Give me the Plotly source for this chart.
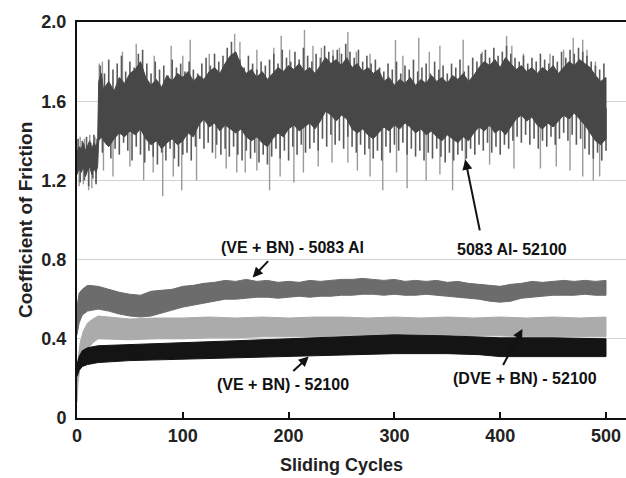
import numpy as np
import plotly.graph_objects as go

# ---------------- data ----------------
# 5083 Al - 52100 : dense core envelope (upper / lower)
s1_cyc = [0, 2, 4, 6, 8, 10, 12, 14, 16, 18, 19.5, 20.5, 23] + list(range(25, 501, 5))
s1_hi = [1.34, 1.37, 1.36, 1.39, 1.35, 1.38, 1.40, 1.36, 1.39, 1.37, 1.40, 1.70, 1.74,
         1.66, 1.70, 1.65, 1.72, 1.69, 1.74, 1.76, 1.80, 1.72, 1.68,
         1.71, 1.67, 1.73, 1.70, 1.74, 1.72, 1.75, 1.70, 1.73, 1.71,
         1.75, 1.77, 1.74, 1.79, 1.83, 1.85, 1.78, 1.74, 1.76, 1.72,
         1.75, 1.71, 1.74, 1.77, 1.75, 1.78, 1.76, 1.79, 1.75, 1.77,
         1.74, 1.78, 1.82, 1.79, 1.81, 1.78, 1.82, 1.77, 1.79, 1.75,
         1.77, 1.74, 1.76, 1.70, 1.72, 1.68, 1.71, 1.69, 1.72, 1.68,
         1.71, 1.69, 1.73, 1.70, 1.72, 1.69, 1.73, 1.71, 1.74, 1.70,
         1.73, 1.77, 1.80, 1.78, 1.81, 1.77, 1.82, 1.79, 1.76, 1.78,
         1.75, 1.77, 1.74, 1.77, 1.75, 1.78, 1.74, 1.77, 1.80, 1.78,
         1.81, 1.79, 1.77, 1.73, 1.70, 1.72]
s1_lo = [1.23, 1.26, 1.24, 1.27, 1.22, 1.25, 1.27, 1.23, 1.26, 1.24, 1.27, 1.40, 1.42,
         1.40, 1.37, 1.41, 1.44, 1.42, 1.45, 1.43, 1.46, 1.41, 1.38,
         1.40, 1.36, 1.39, 1.41, 1.38, 1.40, 1.44, 1.42, 1.48, 1.51,
         1.47, 1.49, 1.45, 1.48, 1.46, 1.44, 1.46, 1.42, 1.40, 1.42,
         1.39, 1.37, 1.41, 1.44, 1.42, 1.46, 1.48, 1.45, 1.47, 1.49,
         1.46, 1.50, 1.55, 1.53, 1.50, 1.53, 1.51, 1.46, 1.44, 1.46,
         1.43, 1.41, 1.44, 1.47, 1.45, 1.48, 1.46, 1.49, 1.47, 1.44,
         1.46, 1.43, 1.45, 1.42, 1.40, 1.43, 1.41, 1.39, 1.42, 1.40,
         1.44, 1.47, 1.45, 1.48, 1.44, 1.46, 1.43, 1.47, 1.51, 1.53,
         1.50, 1.52, 1.48, 1.46, 1.49, 1.47, 1.50, 1.53, 1.51, 1.54,
         1.51, 1.48, 1.44, 1.40, 1.38, 1.41]
# 5083 Al - 52100 : dense short spikes (dark)
s1_hs_cyc = [1, 5, 9, 13, 16, 19] + list(range(22, 499, 4))
s1_hs_val = [1.41, 1.40, 1.42, 1.39, 1.43, 1.41,
             1.78, 1.74, 1.81, 1.76, 1.79, 1.83, 1.75, 1.80, 1.77, 1.84,
             1.86, 1.79, 1.74, 1.80, 1.76, 1.78, 1.73, 1.81, 1.77, 1.79,
             1.75, 1.80, 1.76, 1.74, 1.79, 1.82, 1.78, 1.84, 1.80, 1.83,
             1.87, 1.90, 1.84, 1.81, 1.77, 1.83, 1.79, 1.76, 1.80, 1.78,
             1.81, 1.84, 1.79, 1.86, 1.82, 1.80, 1.85, 1.81, 1.87, 1.83,
             1.80, 1.84, 1.82, 1.88, 1.85, 1.83, 1.86, 1.84, 1.89, 1.85,
             1.82, 1.86, 1.80, 1.83, 1.79, 1.81, 1.77, 1.75, 1.79, 1.76,
             1.80, 1.74, 1.78, 1.76, 1.81, 1.75, 1.77, 1.79, 1.74, 1.80,
             1.76, 1.78, 1.74, 1.79, 1.77, 1.81, 1.75, 1.78, 1.82, 1.80,
             1.84, 1.86, 1.82, 1.87, 1.83, 1.85, 1.88, 1.84, 1.82, 1.80,
             1.83, 1.79, 1.82, 1.80, 1.84, 1.81, 1.79, 1.83, 1.80, 1.85,
             1.82, 1.86, 1.84, 1.87, 1.85, 1.83, 1.80, 1.78, 1.76, 1.79]
s1_ls_cyc = [3, 7, 11, 15, 18] + list(range(24, 501, 4))
s1_ls_val = [1.19, 1.20, 1.17, 1.21, 1.18,
             1.34, 1.38, 1.31, 1.36, 1.33, 1.39, 1.35, 1.30, 1.37, 1.33,
             1.29, 1.35, 1.32, 1.28, 1.34, 1.30, 1.36, 1.31, 1.27, 1.33,
             1.34, 1.30, 1.37, 1.41, 1.36, 1.39, 1.34, 1.38, 1.33, 1.36,
             1.32, 1.37, 1.33, 1.30, 1.35, 1.31, 1.34, 1.29, 1.33, 1.28,
             1.32, 1.36, 1.31, 1.35, 1.30, 1.37, 1.33, 1.38, 1.34, 1.36,
             1.39, 1.35, 1.41, 1.37, 1.43, 1.38, 1.40, 1.36, 1.42, 1.37,
             1.34, 1.38, 1.33, 1.36, 1.31, 1.35, 1.30, 1.37, 1.34, 1.38,
             1.35, 1.39, 1.33, 1.36, 1.32, 1.35, 1.30, 1.34, 1.31, 1.36,
             1.32, 1.29, 1.34, 1.30, 1.33, 1.35, 1.31, 1.36, 1.33, 1.38,
             1.35, 1.39, 1.34, 1.37, 1.33, 1.38, 1.36, 1.40, 1.42, 1.39,
             1.43, 1.38, 1.41, 1.36, 1.40, 1.37, 1.42, 1.38, 1.41, 1.44,
             1.40, 1.43, 1.38, 1.41, 1.36, 1.33, 1.31, 1.34, 1.30, 1.35]
# 5083 Al - 52100 : tall spikes (light grey)
s1_up_cyc = [3, 7, 12, 17, 21, 24, 43, 56, 73, 89, 100, 107, 125, 149, 154, 170, 186, 193,
             201, 215, 223, 231, 242, 248, 256, 264, 277, 301, 308, 323, 333, 343, 365,
             383, 406, 411, 422, 447, 460, 469, 478, 482, 490]
s1_up_val = [1.42, 1.41, 1.43, 1.42, 1.79, 1.80, 1.85, 1.89, 1.83, 1.88, 1.83, 1.91, 1.84,
             1.94, 1.90, 1.86, 1.87, 1.93, 1.86, 1.96, 1.88, 1.87, 1.86, 1.87, 1.95, 1.85,
             1.84, 1.91, 1.83, 1.92, 1.85, 1.88, 1.91, 1.85, 1.93, 1.88, 1.84, 1.84, 1.86,
             1.92, 1.91, 1.86, 1.80]
s1_dn_cyc = [2, 6, 11, 14, 18, 25, 34, 50, 63, 72, 81, 91, 99, 113, 131, 141, 151, 159, 170,
             182, 192, 205, 214, 228, 241, 256, 265, 277, 289, 302, 312, 330, 343, 355,
             367, 390, 413, 438, 453, 466, 478, 488, 494]
s1_dn_val = [1.17, 1.18, 1.15, 1.16, 1.19, 1.25, 1.22, 1.27, 1.20, 1.24, 1.12, 1.22, 1.15,
             1.20, 1.31, 1.26, 1.24, 1.24, 1.25, 1.15, 1.22, 1.19, 1.24, 1.27, 1.29, 1.29,
             1.25, 1.22, 1.15, 1.24, 1.16, 1.20, 1.23, 1.15, 1.27, 1.28, 1.26, 1.26, 1.27,
             1.25, 1.22, 1.20, 1.22]

# (VE + BN) - 5083 Al
s2_cyc = [0, 2, 5, 10, 20, 30, 40, 50, 60, 70, 80, 90, 100, 110, 120, 130, 140, 150, 160,
          170, 180, 190, 200, 210, 220, 230, 240, 250, 260, 270, 280, 290, 300, 310, 320,
          330, 340, 350, 360, 370, 380, 390, 400, 410, 420, 430, 440, 450, 460, 470, 480,
          490, 500]
s2_hi = [0.56, 0.63, 0.65, 0.67, 0.665, 0.65, 0.635, 0.625, 0.62, 0.64, 0.645, 0.65, 0.665,
         0.67, 0.68, 0.685, 0.695, 0.69, 0.70, 0.69, 0.695, 0.685, 0.69, 0.685, 0.695,
         0.69, 0.695, 0.70, 0.70, 0.705, 0.70, 0.695, 0.70, 0.69, 0.695, 0.69, 0.695,
         0.685, 0.69, 0.68, 0.675, 0.67, 0.665, 0.675, 0.68, 0.69, 0.685, 0.69, 0.695,
         0.69, 0.695, 0.69, 0.695]
s2_lo = [0.42, 0.48, 0.52, 0.54, 0.55, 0.54, 0.525, 0.515, 0.51, 0.515, 0.53, 0.545, 0.56,
         0.57, 0.58, 0.59, 0.60, 0.60, 0.605, 0.61, 0.61, 0.605, 0.61, 0.615, 0.61,
         0.615, 0.615, 0.62, 0.62, 0.625, 0.625, 0.62, 0.625, 0.62, 0.62, 0.625, 0.62,
         0.615, 0.61, 0.605, 0.60, 0.59, 0.585, 0.59, 0.605, 0.61, 0.615, 0.62, 0.62,
         0.62, 0.625, 0.62, 0.62]

# (DVE + BN) - 52100
s3_cyc = [0, 1, 3, 6, 10, 15, 20, 30, 50, 75, 100, 125, 150, 175, 200, 225, 250, 275, 300,
          325, 350, 375, 400, 425, 450, 475, 500]
s3_hi = [0.20, 0.30, 0.38, 0.44, 0.48, 0.50, 0.515, 0.51, 0.50, 0.505, 0.505, 0.51, 0.505,
         0.51, 0.505, 0.51, 0.51, 0.505, 0.51, 0.505, 0.51, 0.505, 0.51, 0.505, 0.51,
         0.505, 0.51]
s3_lo = [0.08, 0.18, 0.26, 0.31, 0.35, 0.38, 0.40, 0.40, 0.395, 0.40, 0.40, 0.405, 0.405,
         0.41, 0.41, 0.41, 0.415, 0.415, 0.42, 0.42, 0.42, 0.415, 0.415, 0.41, 0.41,
         0.41, 0.41]

# (VE + BN) - 52100
s4_cyc = [0, 2, 5, 10, 20, 50, 100, 150, 200, 260, 300, 350, 380, 400, 450, 500]
s4_hi = [0.27, 0.31, 0.34, 0.355, 0.365, 0.37, 0.38, 0.39, 0.40, 0.41, 0.42, 0.415, 0.41,
         0.405, 0.405, 0.40]
s4_lo = [0.21, 0.24, 0.26, 0.27, 0.28, 0.29, 0.30, 0.305, 0.31, 0.32, 0.325, 0.325, 0.32,
         0.31, 0.31, 0.31]

x_ticks = [0, 100, 200, 300, 400, 500]
y_ticks = [0, 0.4, 0.8, 1.2, 1.6, 2.0]
y_tick_text = ["0", "0.4", "0.8", "1.2", "1.6", "2.0"]

labels = ["5083 Al- 52100", "(VE + BN) - 5083 Al", "(VE + BN) - 52100", "(DVE + BN) - 52100"]
label_xy = [(411, 0.85), (204, 0.86), (195, 0.17), (423, 0.197)]
arrow_tip = [(367, 1.305), (166, 0.71), (219, 0.31), (421, 0.45)]
arrow_tail = [(381, 0.94), (182, 0.80), (203, 0.23), (402, 0.26)]

FONT = "Liberation Sans, Arial, sans-serif"

fig = go.Figure()


def band(cyc, hi, lo, color):
    xs = list(cyc) + list(cyc)[::-1]
    ys = list(hi) + list(lo)[::-1]
    fig.add_trace(go.Scatter(x=xs, y=ys, fill="toself", fillcolor=color, mode="lines",
                             line=dict(color=color, width=1), hoverinfo="skip",
                             showlegend=False))


def spikes(cyc_core, hi, lo, sc, sv, color, width):
    mid = (np.array(hi) + np.array(lo)) / 2.0
    xs, ys = [], []
    for c, v in zip(sc, sv):
        m = float(np.interp(c, cyc_core, mid))
        xs += [c, c, None]
        ys += [v, m, None]
    fig.add_trace(go.Scatter(x=xs, y=ys, mode="lines", line=dict(color=color, width=width),
                             hoverinfo="skip", showlegend=False))


# series 1
spikes(s1_cyc, s1_hi, s1_lo, s1_up_cyc, s1_up_val, "#9a9a9a", 1.4)
spikes(s1_cyc, s1_hi, s1_lo, s1_dn_cyc, s1_dn_val, "#9a9a9a", 1.4)
spikes(s1_cyc, s1_hi, s1_lo, s1_hs_cyc, s1_hs_val, "#5a5a5a", 1.6)
spikes(s1_cyc, s1_hi, s1_lo, s1_ls_cyc, s1_ls_val, "#5a5a5a", 1.6)
band(s1_cyc, s1_hi, s1_lo, "#474747")
# series 2..4
band(s2_cyc, s2_hi, s2_lo, "#6c6c6c")
band(s3_cyc, s3_hi, s3_lo, "#ababab")
band(s4_cyc, s4_hi, s4_lo, "#141414")

annotations = []
for t, (x, y) in zip(labels, label_xy):
    annotations.append(dict(x=x, y=y, xref="x", yref="y", text="<b>" + t + "</b>",
                            showarrow=False,
                            font=dict(family=FONT, size=16, color="#111111"),
                            xanchor="center", yanchor="middle"))
for (tx, ty), (ax, ay) in zip(arrow_tip, arrow_tail):
    annotations.append(dict(x=tx, y=ty, ax=ax, ay=ay, xref="x", yref="y", axref="x",
                            ayref="y", text="", showarrow=True, arrowhead=2,
                            arrowsize=1, arrowwidth=2, arrowcolor="#111111"))
annotations.append(dict(x=-0.0947, y=0.5, xref="paper", yref="paper",
                        text="<b>Coefficient of Friction</b>", textangle=-90,
                        showarrow=False, font=dict(family=FONT, size=19, color="#222222"),
                        xanchor="center", yanchor="middle"))
annotations.append(dict(x=250, y=-0.118, xref="x", yref="paper", text="<b>Sliding Cycles</b>",
                        showarrow=False, font=dict(family=FONT, size=18, color="#222222"),
                        xanchor="center", yanchor="middle"))

fig.update_layout(
    width=626, height=478,
    margin=dict(l=77, r=0, t=22, b=60),
    paper_bgcolor="white", plot_bgcolor="white",
    annotations=annotations,
    xaxis=dict(range=[0, 518.9], tickvals=x_ticks, ticktext=["<b>%d</b>" % v for v in x_ticks],
               ticks="inside", ticklen=6, tickwidth=1.5, tickcolor="#111111",
               showline=True, linecolor="#111111", linewidth=2, mirror=True,
               showgrid=False, zeroline=False, ticklabeloverflow="allow",
               tickfont=dict(family=FONT, size=18, color="#222222")),
    yaxis=dict(range=[0, 2.0], tickvals=y_ticks, ticktext=["<b>%s</b>" % t for t in y_tick_text],
               ticks="", showline=True, linecolor="#111111", linewidth=2,
               showgrid=True, gridcolor="#d2d2d2", gridwidth=1, zeroline=False,
               ticklabelstandoff=5,
               tickfont=dict(family=FONT, size=18, color="#222222")),
)

fig.write_html("out.html", config={"displayModeBar": False},
               post_script="document.body.style.margin='0px';document.body.style.padding='0px';")
